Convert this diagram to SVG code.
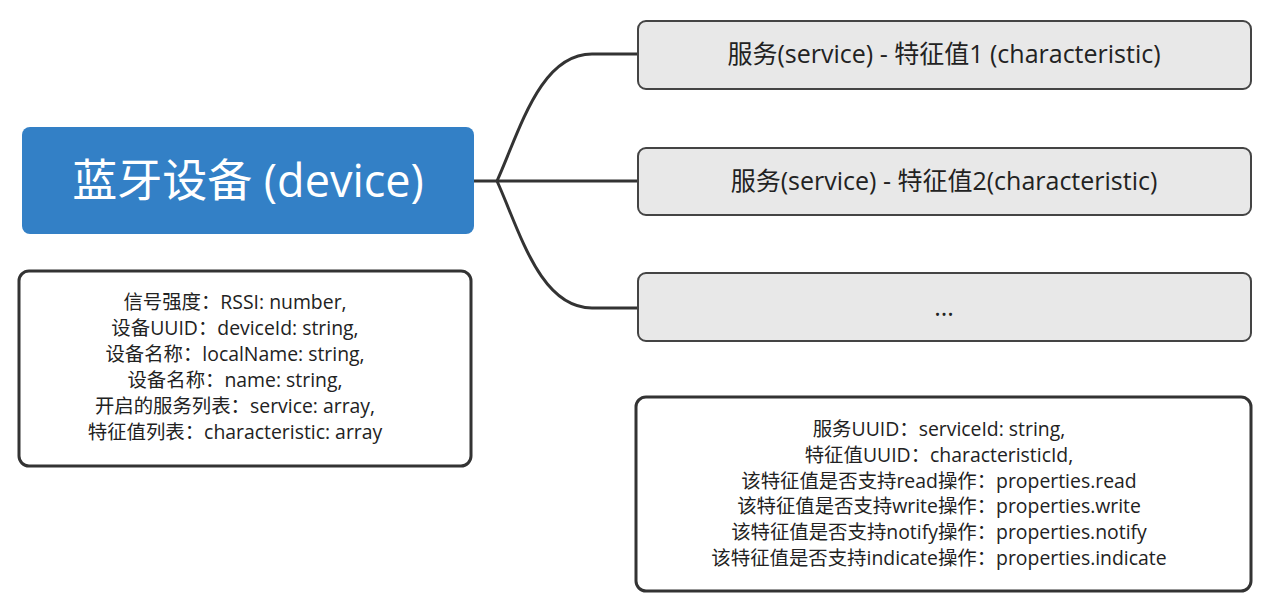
<svg xmlns="http://www.w3.org/2000/svg" width="1270" height="614" viewBox="0 0 1270 614">
<style>
text{font-family:"Open Sans","Noto Sans CJK SC",sans-serif;text-anchor:middle;fill:#222}
.main{fill:#fff;font-size:45px}
.svc{font-size:25px}
.info{font-size:19.4px}
.conn{fill:none;stroke:#333;stroke-width:3}
.gray{fill:#e8e8e8;stroke:#444;stroke-width:2}
.note{fill:#fff;stroke:#333;stroke-width:3}
</style>
<rect width="1270" height="614" fill="#fff"/>
<g id="connectors">
<path class="conn" d="M474 181 H638"/>
<path class="conn" d="M497 181 C520 130 540 54 592 54 H638"/>
<path class="conn" d="M497 181 C520 232 540 308 592 308 H638"/>
</g>
<g id="device">
<rect x="22" y="127" width="452" height="107" rx="8" fill="#3380c6"/>
<text class="main" x="248" y="197">蓝牙设备 (device)</text>
</g>
<g id="device-info">
<rect class="note" x="19" y="271" width="452" height="195" rx="10"/>
<text class="info" x="235" y="309">信号强度：RSSI: number,</text>
<text class="info" x="235" y="335">设备UUID：deviceId: string,</text>
<text class="info" x="235" y="361">设备名称：localName: string,</text>
<text class="info" x="235" y="387">设备名称：name: string,</text>
<text class="info" x="235" y="413">开启的服务列表：service: array,</text>
<text class="info" x="235" y="439">特征值列表：characteristic: array</text>
</g>
<g id="service1">
<rect class="gray" x="638" y="21" width="613" height="68" rx="8"/>
<text class="svc" x="944" y="63">服务(service) - 特征值1 (characteristic)</text>
</g>
<g id="service2">
<rect class="gray" x="638" y="148" width="613" height="67" rx="8"/>
<text class="svc" x="944" y="190">服务(service) - 特征值2(characteristic)</text>
</g>
<g id="more">
<rect class="gray" x="638" y="273" width="613" height="68" rx="8"/>
<text class="svc" x="944" y="316">...</text>
</g>
<g id="char-info">
<rect class="note" x="636" y="397" width="615" height="194" rx="10"/>
<text class="info" x="939" y="436">服务UUID：serviceId: string,</text>
<text class="info" x="939" y="462">特征值UUID：characteristicId,</text>
<text class="info" x="939" y="488">该特征值是否支持read操作：properties.read</text>
<text class="info" x="939" y="513">该特征值是否支持write操作：properties.write</text>
<text class="info" x="939" y="539">该特征值是否支持notify操作：properties.notify</text>
<text class="info" x="939" y="565">该特征值是否支持indicate操作：properties.indicate</text>
</g>
</svg>
